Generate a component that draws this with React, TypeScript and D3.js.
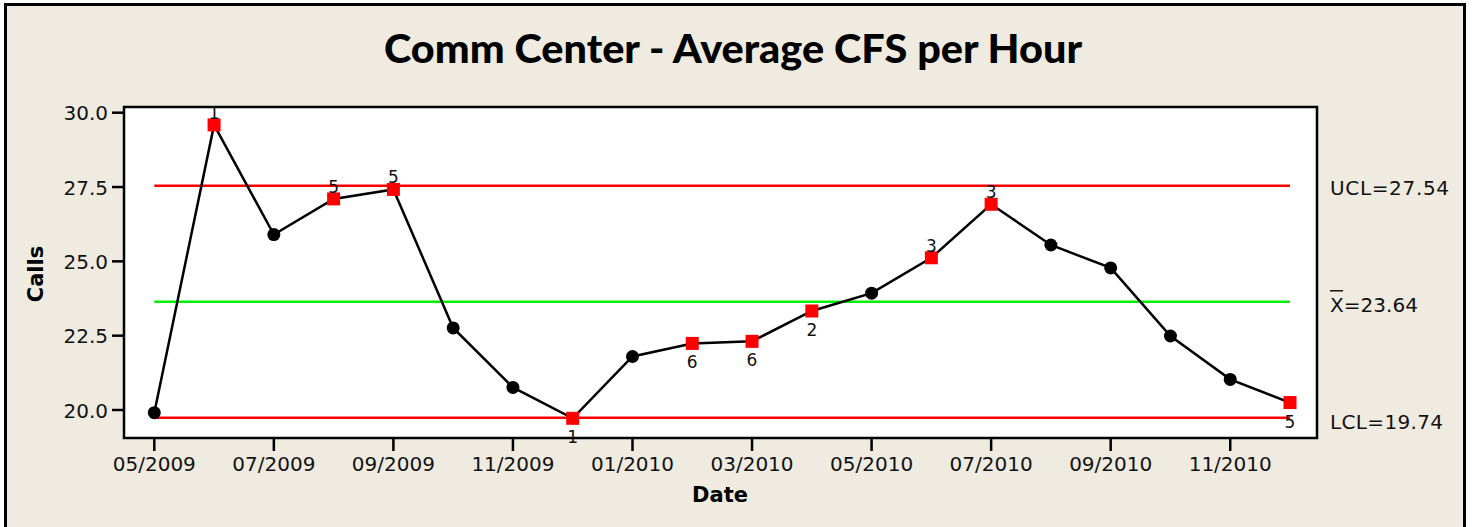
import React, { useEffect, useRef } from "react";
import * as d3 from "d3";

const months = [
  "05/2009", "06/2009", "07/2009", "08/2009", "09/2009", "10/2009", "11/2009", "12/2009",
  "01/2010", "02/2010", "03/2010", "04/2010", "05/2010", "06/2010", "07/2010", "08/2010",
  "09/2010", "10/2010", "11/2010", "12/2010",
];
const calls = [
  19.91, 29.59, 25.9, 27.1, 27.42, 22.76, 20.76, 19.72, 21.8, 22.24,
  22.31, 23.33, 23.93, 25.12, 26.92, 25.55, 24.78, 22.49, 21.03, 20.25,
];
// test failures flagged by the control chart ("" = none)
const flags = ["", "1", "", "5", "5", "", "", "1", "", "6", "6", "2", "", "3", "3", "", "", "", "", "5"];
const flagAbove = [false, true, false, true, true, false, false, false, false, false, false, false, false, true, true, false, false, false, false, false];
const xTicks = ["05/2009", "07/2009", "09/2009", "11/2009", "01/2010", "03/2010", "05/2010", "07/2010", "09/2010", "11/2010"];
const yTicks = [20, 22.5, 25, 27.5, 30];
const UCL = 27.54;
const MEAN = 23.64;
const LCL = 19.74;

const W = 1472;
const H = 527;
const font = "'DejaVu Sans', Verdana, sans-serif";

export default function App() {
  const ref = useRef<SVGSVGElement>(null);

  useEffect(() => {
    const svg = d3.select(ref.current);
    svg.selectAll("*").remove();

    const frame = { left: 124, top: 107, right: 1317, bottom: 438 };
    const x = d3.scalePoint<string>().domain(months).range([154.3, 1290]);
    const y = d3.scaleLinear().domain([20, 30]).range([410, 112.7]);

    svg.append("rect").attr("width", W).attr("height", H).attr("fill", "#ffffff");
    svg
      .append("rect")
      .attr("x", 5.5)
      .attr("y", 4.5)
      .attr("width", 1459)
      .attr("height", 540)
      .attr("fill", "#efebe1")
      .attr("stroke", "#000")
      .attr("stroke-width", 3);

    svg
      .append("text")
      .attr("x", 733)
      .attr("y", 63)
      .attr("text-anchor", "middle")
      .attr("font-family", "Lato, 'DejaVu Sans', sans-serif")
      .attr("font-weight", 900)
      .attr("font-size", 40)
      .attr("textLength", 698)
      .attr("lengthAdjust", "spacingAndGlyphs")
      .text("Comm Center - Average CFS per Hour");

    svg
      .append("rect")
      .attr("x", frame.left)
      .attr("y", frame.top)
      .attr("width", frame.right - frame.left)
      .attr("height", frame.bottom - frame.top)
      .attr("fill", "#fff")
      .attr("stroke", "#000")
      .attr("stroke-width", 2.5);

    // y axis ticks
    const yAxis = svg.append("g");
    yAxis
      .selectAll("line")
      .data(yTicks)
      .join("line")
      .attr("x1", 112)
      .attr("x2", frame.left)
      .attr("y1", (d) => y(d))
      .attr("y2", (d) => y(d))
      .attr("stroke", "#000")
      .attr("stroke-width", 2.5);
    yAxis
      .selectAll("text")
      .data(yTicks)
      .join("text")
      .attr("x", 108)
      .attr("y", (d) => y(d) + 7.5)
      .attr("text-anchor", "end")
      .attr("font-family", font)
      .attr("font-size", 20)
      .attr("fill", "#111")
      .text((d) => d3.format(".1f")(d));

    // x axis ticks
    const xAxis = svg.append("g");
    xAxis
      .selectAll("line")
      .data(xTicks)
      .join("line")
      .attr("x1", (d) => x(d)!)
      .attr("x2", (d) => x(d)!)
      .attr("y1", frame.bottom)
      .attr("y2", 451)
      .attr("stroke", "#000")
      .attr("stroke-width", 2.5);
    xAxis
      .selectAll("text")
      .data(xTicks)
      .join("text")
      .attr("x", (d) => x(d)!)
      .attr("y", 471)
      .attr("text-anchor", "middle")
      .attr("font-family", font)
      .attr("font-size", 20)
      .attr("fill", "#111")
      .text((d) => d);

    svg
      .append("text")
      .attr("x", 720)
      .attr("y", 502)
      .attr("text-anchor", "middle")
      .attr("font-family", font)
      .attr("font-weight", "bold")
      .attr("font-size", 21)
      .text("Date");

    svg
      .append("text")
      .attr("transform", "translate(43, 274) rotate(-90)")
      .attr("text-anchor", "middle")
      .attr("font-family", font)
      .attr("font-weight", "bold")
      .attr("font-size", 21)
      .text("Calls");

    // control lines
    const x0 = x(months[0])!;
    const x1 = x(months[months.length - 1])!;
    const limits = [
      { v: UCL, color: "#ff0000" },
      { v: MEAN, color: "#00ee00" },
      { v: LCL, color: "#ff0000" },
    ];
    svg
      .selectAll(".limit")
      .data(limits)
      .join("line")
      .attr("class", "limit")
      .attr("x1", x0)
      .attr("x2", x1)
      .attr("y1", (d) => y(d.v))
      .attr("y2", (d) => y(d.v))
      .attr("stroke", (d) => d.color)
      .attr("stroke-width", 2.5);

    // right side labels
    const rl = svg.append("g").attr("font-family", font).attr("font-size", 20).attr("fill", "#111");
    rl.append("text")
      .attr("x", 1330)
      .attr("y", y(UCL) + 9)
      .attr("textLength", 119)
      .attr("lengthAdjust", "spacing")
      .text(`UCL=${UCL.toFixed(2)}`);
    rl.append("text")
      .attr("x", 1330)
      .attr("y", y(MEAN) + 10)
      .attr("textLength", 88)
      .attr("lengthAdjust", "spacing")
      .text(`X=${MEAN.toFixed(2)}`);
    rl.append("line")
      .attr("x1", 1330)
      .attr("x2", 1343)
      .attr("y1", y(MEAN) - 11)
      .attr("y2", y(MEAN) - 11)
      .attr("stroke", "#111")
      .attr("stroke-width", 1.5);
    rl.append("text")
      .attr("x", 1330)
      .attr("y", y(LCL) + 11)
      .attr("textLength", 113)
      .attr("lengthAdjust", "spacing")
      .text(`LCL=${LCL.toFixed(2)}`);

    // series line
    const line = d3
      .line<number>()
      .x((_, i) => x(months[i])!)
      .y((d) => y(d));
    svg
      .append("path")
      .datum(calls)
      .attr("d", line)
      .attr("fill", "none")
      .attr("stroke", "#000")
      .attr("stroke-width", 2.5);

    const pts = calls.map((v, i) => ({ v, i, m: months[i], flag: flags[i], above: flagAbove[i] }));

    svg
      .selectAll(".dot")
      .data(pts.filter((d) => !d.flag))
      .join("circle")
      .attr("class", "dot")
      .attr("cx", (d) => x(d.m)!)
      .attr("cy", (d) => y(d.v))
      .attr("r", 6.5)
      .attr("fill", "#000");

    svg
      .selectAll(".sq")
      .data(pts.filter((d) => d.flag))
      .join("rect")
      .attr("class", "sq")
      .attr("x", (d) => x(d.m)! - 6.5)
      .attr("y", (d) => y(d.v) - 6.5)
      .attr("width", 13)
      .attr("height", 13)
      .attr("fill", "#ff0000");

    svg
      .selectAll(".flag")
      .data(pts.filter((d) => d.flag))
      .join("text")
      .attr("class", "flag")
      .attr("x", (d) => x(d.m)!)
      .attr("y", (d) => (d.above ? y(d.v) - 6 : y(d.v) + 25))
      .attr("text-anchor", "middle")
      .attr("font-family", font)
      .attr("font-size", 17)
      .attr("fill", "#111")
      .text((d) => d.flag);
  }, []);

  return (
    <svg
      ref={ref}
      width={W}
      height={H}
      style={{ position: "absolute", left: 0, top: 0, display: "block" }}
    />
  );
}
